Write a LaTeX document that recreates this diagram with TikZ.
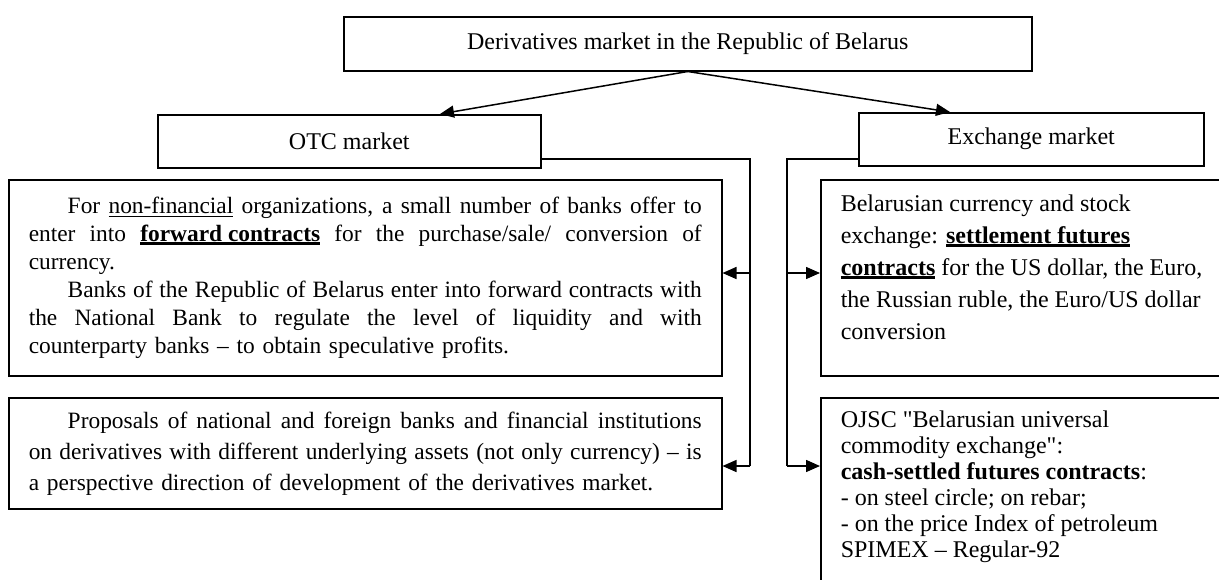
\documentclass[tikz,border=0pt]{standalone}
\usepackage{fontspec}
\setmainfont{Liberation Serif}
\usetikzlibrary{arrows.meta}
\newcommand{\undl}[2][1.3pt]{\setbox0\hbox{#2}\rlap{\rule[-3.5pt]{\wd0}{#1}}\box0\relax}
\newcommand{\jline}[1]{\makebox[673pt][s]{\spaceskip=0.25em plus 1em minus 0.08em\relax #1}}

\begin{document}
\begin{tikzpicture}[x=1pt,y=-1pt,
  box/.style={draw, line width=1.5pt, inner sep=0pt, anchor=north west, font=\fontsize{24}{28}\selectfont},
  line/.style={draw, line width=1.5pt},
  arrow/.style={line, -{Triangle[length=14pt,width=12pt]}}
]
\clip (0,0) rectangle (1219,579);

\node[box, minimum width=688pt, minimum height=54pt] (dm) at (343,16) {Derivatives market in the Republic of Belarus};
\node[box, minimum width=383pt, minimum height=53pt] (otc) at (157,114) {OTC market};
\node[box, minimum width=345pt, minimum height=53pt] (exm) at (858,112) {Exchange market};

\node[box, minimum width=713pt, minimum height=196pt, text width=673pt, align=left,
  font=\fontsize{23.4}{28}\selectfont] (fwd) at (8,179) {%
\jline{\hspace*{39pt}For \undl{non-financial} organizations, a small number of banks offer to}\\
\jline{enter into \undl[2.5pt]{\textbf{forward contracts}} for the purchase/sale/ conversion of}\\
currency.\\
\jline{\hspace*{39pt}Banks of the Republic of Belarus enter into forward contracts with}\\
\jline{the National Bank to regulate the level of liquidity and with}\\
counterparty banks -- to obtain speculative profits.};

\node[box, minimum width=713pt, minimum height=111pt, text width=673pt, align=left,
  font=\fontsize{23.4}{31}\selectfont] (prop) at (8,397) {%
\jline{\hspace*{39pt}Proposals of national and foreign banks and financial institutions}\\
\jline{on derivatives with different underlying assets (not only currency) -- is}\\
a perspective direction of development of the derivatives market.};

\node[box, minimum width=420pt, minimum height=196pt] (fut) at (820,179) {%
\parbox[c][196pt][t]{380pt}{\fontsize{24}{32}\selectfont\vspace*{15pt}%
Belarusian currency and stock\\
exchange: \undl[2.5pt]{\textbf{settlement futures}}\\
\undl[2.5pt]{\textbf{contracts}} for the US dollar, the Euro,\\
the Russian ruble, the Euro/US dollar\\
conversion}};

\node[box, minimum width=420pt, minimum height=220pt] (bucx) at (820,397) {%
\parbox[c][220pt][t]{380pt}{\fontsize{24}{26}\selectfont\vspace*{13pt}%
OJSC \textquotedbl Belarusian universal\\
commodity exchange\textquotedbl:\\
\textbf{cash-settled futures contracts}:\\
- on steel circle; on rebar;\\
- on the price Index of petroleum\\
SPIMEX -- Regular-92}};

% buses
\coordinate (lbus) at (750,159);
\coordinate (rbus) at (787,159);
\coordinate (lfwd) at (750,273);
\coordinate (lprop) at (750,466);
\coordinate (rfut) at (787,273);
\coordinate (rbucx) at (787,466);

\draw[arrow] (dm.south) -- (otc.north -| 440,0);
\draw[arrow] (dm.south) -- (exm.north -| 950,0);

\draw[line] (otc.east |- lbus) -- (lbus) -- (lprop);
\draw[arrow] (lfwd) -- (fwd.east |- lfwd);
\draw[arrow] (lprop) -- (prop.east |- lprop);

\draw[line] (exm.west |- rbus) -- (rbus) -- (rbucx);
\draw[arrow] (rfut) -- (fut.west |- rfut);
\draw[arrow] (rbucx) -- (bucx.west |- rbucx);
\end{tikzpicture}
\end{document}
